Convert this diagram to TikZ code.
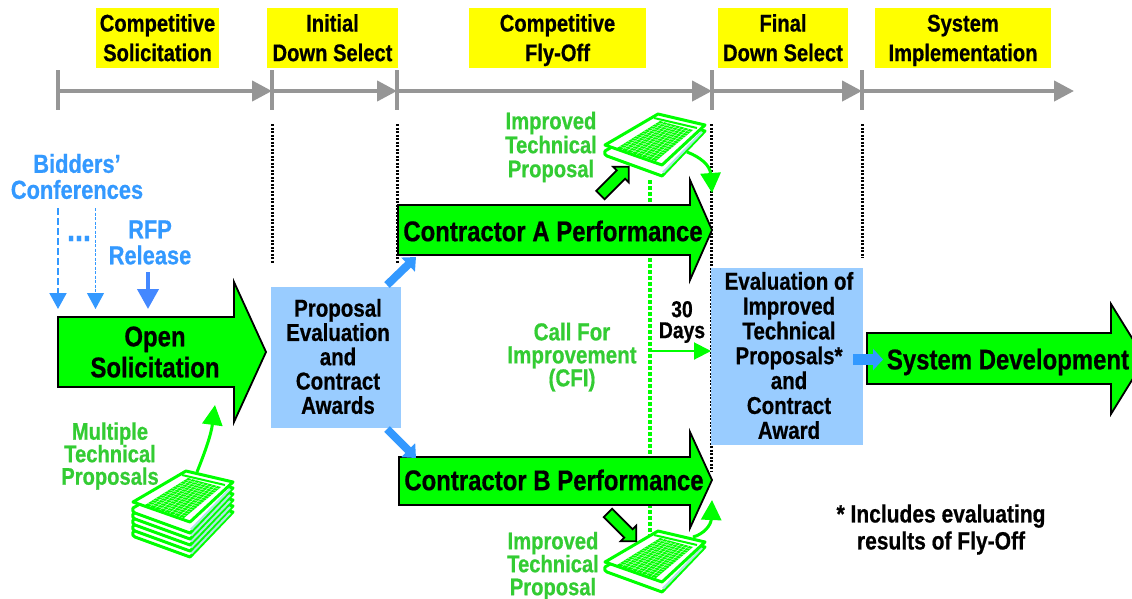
\documentclass[tikz,border=0pt]{standalone}
\usepackage{fontspec}
\setmainfont{Liberation Sans}[FakeStretch=0.84,BoldFeatures={FakeBold=0.6}]
\usetikzlibrary{arrows.meta,shapes.arrows,calc}
\definecolor{brightgreen}{HTML}{00FF00}
\definecolor{labelgreen}{HTML}{33CC33}
\definecolor{labelblue}{HTML}{3399FF}
\definecolor{rfpblue}{HTML}{4488FF}
\definecolor{boxblue}{HTML}{99CCFF}
\definecolor{tlgray}{HTML}{969696}
\definecolor{palesheet}{HTML}{B0E4E4}
\definecolor{phaseyellow}{HTML}{FFFF00}
\newcommand{\fs}[2]{\fontsize{#1}{#2}\selectfont}
\newcommand{\pstrut}{\rule[-6pt]{0pt}{28.6pt}}
\tikzset{
  phase/.style={fill=phaseyellow,inner sep=0pt,align=center,font=\bfseries\fs{24}{28.5}},
  tick/.style={draw=tlgray,line width=4pt},
  tlseg/.style={draw=tlgray,line width=4.2pt,-{Triangle[length=20pt,width=20pt]}},
  guide/.style={draw=black,line width=3pt,dash pattern=on 2.4pt off 1.1pt},
  cfiguide/.style={draw=brightgreen,line width=4pt,dash pattern=on 4pt off 2pt},
  bigarrow/.style={fill=brightgreen,draw=black,line width=1.8pt,line join=miter,miter limit=10},
  bigtext/.style={font=\bfseries\fs{28.5}{31},align=center,text=black,inner sep=0pt},
  fillbox/.style={fill=boxblue,inner sep=0pt},
  evalbox/.style={text=black,inner sep=0pt,align=center,font=\bfseries\fs{24.4}{24.85}},
  greenlabel/.style={text=labelgreen,align=center,inner sep=0pt,font=\bfseries\fs{24}{23.5}},
  bluelabel/.style={text=labelblue,align=center,inner sep=0pt,font=\bfseries\fs{26}{26}},
  blacklabel/.style={text=black,align=center,inner sep=0pt,font=\bfseries\fs{25}{27}},
  flowblue/.style={draw=labelblue,line width=8pt,-{Triangle[length=11pt,width=19pt]}},
  curvegreen/.style={draw=brightgreen,line width=3pt,-{Triangle[length=20pt,width=20pt]}},
  blockarrow/.style={shape=single arrow,fill=brightgreen,draw=black,line width=1.8pt,
    minimum height=40pt,minimum width=22pt,inner sep=5pt,
    single arrow tip angle=90,single arrow head extend=5pt},
  sheetline/.style={draw=brightgreen,line width=3pt,line join=round},
}
% one sheet: origin at the left corner
\newcommand{\sheetlayer}[2]{%
  \begin{scope}[shift={(#1,#2)}]
    \filldraw[sheetline,fill=white] (0,0) .. controls (-1,3) and (0,4) .. (2,5) -- (57,25) -- (100,-20) -- (53,-31) -- cycle;
    \draw[palesheet,line width=2.2pt] (58,21.5) -- (97,-19);
  \end{scope}}
\newcommand{\sheettop}[2]{%
  \begin{scope}[shift={(#1,#2)}]
    \filldraw[sheetline,fill=white] (0,0) -- (57,20) -- (100,-20) -- (53,-31) -- cycle;
    \draw[brightgreen,line width=2pt] (49,-27) -- (92,-17);
    \fill[brightgreen] (12,3) -- (55,-24) -- (88,-15) -- (51,16) -- cycle;
    \foreach \t in {0.125,0.25,...,0.9}{
      \draw[white,line width=0.25pt] ($(12,3)!\t!(51,16)$) -- ($(55,-24)!\t!(88,-15)$);
    }
    \foreach \t in {0.0625,0.125,...,0.95}{
      \draw[white,line width=0.25pt] ($(12,3)!\t!(55,-24)$) -- ($(51,16)!\t!(88,-15)$);
    }
  \end{scope}}
\begin{document}
\begin{tikzpicture}[x=1pt,y=-1pt]
\useasboundingbox (0,0) rectangle (1132,598);
\fill[white] (0,0) rectangle (1132,598);
% timeline anchors
\coordinate (t1) at (58,91);
\coordinate (t2) at (272,91);
\coordinate (t3) at (397,91);
\coordinate (t4) at (712,91);
\coordinate (t5) at (862,91);
\coordinate (t6) at (1074,91);
% phase labels
\node[phase,minimum width=123pt,minimum height=60pt] (p1) at (157.5,38) {\pstrut Competitive\\Solicitation\pstrut};
\node[phase,minimum width=131pt,minimum height=60pt] (p2) at (332.5,38) {\pstrut Initial\\Down Select\pstrut};
\node[phase,minimum width=177pt,minimum height=60pt] (p3) at (557.5,38) {\pstrut Competitive\\Fly-Off\pstrut};
\node[phase,minimum width=130pt,minimum height=60pt] (p4) at (783,38) {\pstrut Final\\Down Select\pstrut};
\node[phase,minimum width=176pt,minimum height=60pt] (p5) at (963,38) {\pstrut System\\Implementation\pstrut};
% timeline
\foreach \n in {t1,t2,t3,t4,t5}{
  \draw[tick] ($(\n)+(0,-21)$) -- ($(\n)+(0,19)$);
}
\draw[tlseg] (t1) -- (t2);
\draw[tlseg] (t2) -- (t3);
\draw[tlseg] (t3) -- (t4);
\draw[tlseg] (t4) -- (t5);
\draw[tlseg] (t5) -- (t6);
% guide lines
\draw[guide] (272,124) -- (272,263);
\draw[guide] (397,124) -- (397,263);
\draw[guide] (711,124) -- (711,471);
\draw[guide] (862,124) -- (862,258);
\draw[cfiguide] (650,180) -- (650,537);
% big arrows
\draw[bigarrow] (58,317) -- (234,317) -- (234,282) -- (266,352) -- (234,422) -- (234,387) -- (58,387) -- cycle;
\node[bigtext] (open) at (155,352) {Open\\Solicitation};
\draw[bigarrow] (398,205) -- (690,205) -- (690,180) -- (712,230) -- (690,280) -- (690,255) -- (398,255) -- cycle;
\node[bigtext] (ca) at (553,231) {Contractor A Performance};
\draw[bigarrow] (399,457) -- (690,457) -- (690,432) -- (712,480) -- (690,528) -- (690,505) -- (399,505) -- cycle;
\node[bigtext] (cb) at (554,480) {Contractor B Performance};
\begin{scope}
  \clip (0,0) rectangle (1132,598);
  \draw[bigarrow] (867,333) -- (1111,333) -- (1111,304) -- (1145,359) -- (1111,414) -- (1111,384) -- (867,384) -- cycle;
\end{scope}
\node[bigtext] (sd) at (1008,362) {System Development};
% boxes
\node[fillbox,minimum width=130pt,minimum height=141pt] (pe) at (336,357.5) {};
\node[evalbox,font=\bfseries\fs{24.4}{24.3}] (pet) at (338,356.5) {Proposal\\Evaluation\\and\\Contract\\Awards};
\node[fillbox,minimum width=152pt,minimum height=177pt] (ev) at (787,356.5) {};
\node[evalbox] (evt) at (789,355.5) {Evaluation of\\Improved\\Technical\\Proposals*\\and\\Contract\\Award};
% blue flow arrows
\coordinate (fa0) at (387,285);
\coordinate (fa1) at (416,257);
\coordinate (fb0) at (387,429);
\coordinate (fb1) at (416,458);
\coordinate (fc0) at (853,359.5);
\coordinate (fc1) at (883,359.5);
\draw[flowblue] (fa0) -- (fa1);
\draw[flowblue] (fb0) -- (fb1);
\draw[flowblue,line width=11pt,-{Triangle[length=10pt,width=21pt]}] (fc0) -- (fc1);
% bidders
\node[bluelabel] (bid) at (77,176.5) {Bidders’\\Conferences};
\node[bluelabel] (rfp) at (150,242.5) {RFP\\Release};
\node[text=labelblue,anchor=base,inner sep=0pt,font=\bfseries\fs{34}{34}] (dots) at (79,241) {...};
\coordinate (b1s) at (58,208);
\coordinate (b1e) at (58,309);
\coordinate (b2s) at (95.5,208);
\coordinate (b2e) at (95.5,309);
\coordinate (rs) at (148,272);
\coordinate (re) at (148,309);
\draw[labelblue,line width=2pt,dash pattern=on 7pt off 3pt,-{Triangle[length=16pt,width=17pt]}] (b1s) -- (b1e);
\draw[labelblue,line width=1pt,dash pattern=on 3pt off 1.5pt,-{Triangle[length=16pt,width=17pt]}] (b2s) -- (b2e);
\draw[rfpblue,line width=4pt,-{Triangle[length=20pt,width=21pt]}] (rs) -- (re);
% stack
\foreach \i in {5,4,3,2,1}{\sheetlayer{133}{502+6*\i}}
\sheettop{133}{502}
\node[greenlabel,font=\bfseries\fs{24}{22.5}] (mtp) at (110,456) {Multiple\\Technical\\Proposals};
\coordinate (sc0) at (197,472);
\coordinate (sc1) at (215,405);
\draw[curvegreen] (sc0) .. controls (205,452) and (211,435) .. (sc1);
% improved top
\sheetlayer{605}{151}
\sheettop{605}{145}
\node[greenlabel,font=\bfseries\fs{24}{24}] (ita) at (551,147) {Improved\\Technical\\Proposal};
\node[blockarrow,rotate=45] (ka) at (612.5,183) {};
\coordinate (tc0) at (687,152);
\coordinate (tc1) at (712,193);
\draw[curvegreen] (tc0) .. controls (700,157) and (710,165) .. (tc1);
% improved bottom
\sheetlayer{605}{567}
\sheettop{605}{562}
\node[greenlabel,font=\bfseries\fs{24}{23}] (itb) at (553,566) {Improved\\Technical\\Proposal};
\node[blockarrow,rotate=-45] (kb) at (620,525) {};
\coordinate (bc0) at (693,537);
\coordinate (bc1) at (712,500);
\draw[curvegreen] (bc0) .. controls (704,534) and (711,525) .. (bc1);
% CFI
\node[greenlabel,font=\bfseries\fs{24.5}{23}] (cfi) at (572,357) {Call For\\Improvement\\(CFI)};
\coordinate (cfis) at (650,351);
\coordinate (cfie) at (711,351);
\draw[brightgreen,line width=2pt,-{Triangle[length=17pt,width=17pt]}] (cfis) -- (cfie);
\node[blacklabel,font=\bfseries\fs{23}{21}] (days) at (682,322) {30\\Days};
% footnote
\node[blacklabel] (fn) at (941,529.5) {* Includes evaluating\\results of Fly-Off};
\end{tikzpicture}
\end{document}
